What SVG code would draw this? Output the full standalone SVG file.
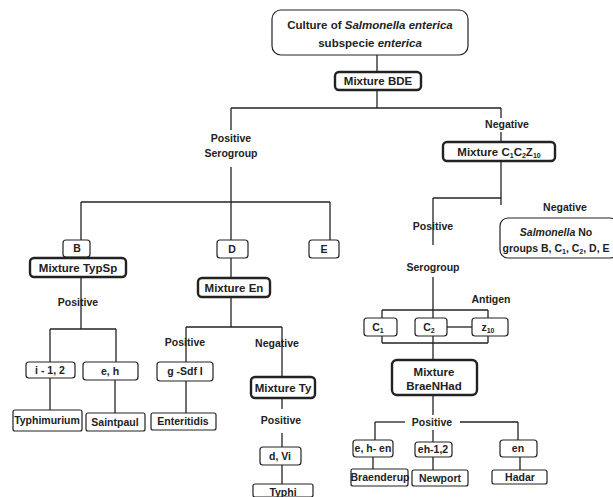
<svg xmlns="http://www.w3.org/2000/svg" width="613" height="497" viewBox="0 0 613 497">
<style>
  .bx{fill:#fff;stroke:#222;stroke-width:1.2}
  .tk{fill:#fff;stroke:#222;stroke-width:2.4}
  .ln line{stroke:#222;stroke-width:1.3}
  text{font-family:"Liberation Sans",Arial,sans-serif;font-weight:bold;fill:#222;text-anchor:middle}
  .m{font-size:11.5px}
  .l{font-size:10.5px}
  .s{font-size:7px}
</style>
<rect width="613" height="497" fill="#fff"/>
<g id="connectors" class="ln">
  <line x1="377" y1="55" x2="377" y2="72"/>
  <line x1="377" y1="90" x2="377" y2="108"/>
  <line x1="231" y1="108" x2="501" y2="108"/>
  <line x1="231" y1="108" x2="231" y2="130"/>
  <line x1="231" y1="167" x2="231" y2="202"/>
  <line x1="501" y1="108" x2="501" y2="118"/>
  <line x1="501" y1="132" x2="501" y2="142"/>
  <line x1="501" y1="161" x2="501" y2="205"/>
  <line x1="433" y1="198" x2="501" y2="198"/>
  <line x1="433" y1="198" x2="433" y2="245"/>
  <line x1="433" y1="277" x2="433" y2="318"/>
  <line x1="382" y1="310" x2="488" y2="310"/>
  <line x1="382" y1="310" x2="382" y2="318"/>
  <line x1="488" y1="310" x2="488" y2="318"/>
  <line x1="382" y1="343" x2="488" y2="343"/>
  <line x1="382" y1="336" x2="382" y2="343"/>
  <line x1="488" y1="336" x2="488" y2="343"/>
  <line x1="447" y1="327" x2="472" y2="327"/>
  <line x1="433" y1="336" x2="433" y2="360"/>
  <line x1="433" y1="395" x2="433" y2="415"/>
  <line x1="433" y1="430" x2="433" y2="442"/>
  <line x1="433" y1="457" x2="433" y2="470"/>
  <line x1="375" y1="422" x2="405" y2="422"/>
  <line x1="460" y1="422" x2="518" y2="422"/>
  <line x1="375" y1="422" x2="375" y2="440"/>
  <line x1="373" y1="457" x2="373" y2="469"/>
  <line x1="518" y1="422" x2="518" y2="440"/>
  <line x1="520" y1="457" x2="520" y2="470"/>
  <line x1="81" y1="202" x2="330" y2="202"/>
  <line x1="81" y1="202" x2="81" y2="240"/>
  <line x1="231" y1="202" x2="231" y2="240"/>
  <line x1="330" y1="202" x2="330" y2="240"/>
  <line x1="81" y1="277" x2="81" y2="329"/>
  <line x1="50" y1="329" x2="116" y2="329"/>
  <line x1="50" y1="329" x2="50" y2="362"/>
  <line x1="116" y1="329" x2="116" y2="362"/>
  <line x1="50" y1="378" x2="50" y2="410"/>
  <line x1="115" y1="380" x2="115" y2="413"/>
  <line x1="231" y1="258" x2="231" y2="278"/>
  <line x1="231" y1="297" x2="231" y2="327"/>
  <line x1="186" y1="327" x2="282" y2="327"/>
  <line x1="186" y1="327" x2="186" y2="362"/>
  <line x1="186" y1="381" x2="186" y2="428"/>
  <line x1="282" y1="327" x2="282" y2="377"/>
  <line x1="282" y1="398" x2="282" y2="409"/>
  <line x1="282" y1="433" x2="282" y2="447"/>
  <line x1="282" y1="465" x2="282" y2="484"/>
</g>
<g id="culture"><rect class="bx" x="272" y="10" width="196" height="45" rx="9"/>
  <text class="m" x="370" y="29">Culture of <tspan font-style="italic">Salmonella enterica</tspan></text>
  <text class="m" x="370" y="47">subspecie <tspan font-style="italic">enterica</tspan></text></g>
<g id="mixBDE"><rect class="tk" x="335" y="72" width="86" height="18" rx="4"/><text class="m" x="378" y="85">Mixture BDE</text></g>
<g id="posSero"><text class="l" x="231" y="142">Positive</text><text class="l" x="231" y="157">Serogroup</text></g>
<g id="neg1"><text class="l" x="507" y="128">Negative</text></g>
<g id="mixC"><rect class="tk" x="443" y="142" width="112" height="19" rx="4"/>
  <text class="m" x="499" y="156">Mixture C<tspan class="s" dy="2">1</tspan><tspan dy="-2">C</tspan><tspan class="s" dy="2">2</tspan><tspan dy="-2">Z</tspan><tspan class="s" dy="2">10</tspan></text></g>
<g id="neg2"><text class="l" x="565" y="211">Negative</text></g>
<g id="noGroups"><rect class="bx" x="500" y="218" width="118" height="40" rx="8"/>
  <text class="l" x="556" y="236"><tspan font-style="italic">Salmonella</tspan> No</text>
  <text class="l" x="556" y="252">groups B, C<tspan class="s" dy="2">1</tspan><tspan dy="-2">, C</tspan><tspan class="s" dy="2">2</tspan><tspan dy="-2">, D, E</tspan></text></g>
<g id="posSero2"><text class="l" x="433" y="230">Positive</text><text class="l" x="433" y="271">Serogroup</text></g>
<g id="antigen"><text class="l" x="491" y="303">Antigen</text></g>
<g id="C1"><rect class="bx" x="364" y="318" width="33" height="18" rx="3"/><text class="l" x="378" y="331">C<tspan class="s" dy="2">1</tspan></text></g>
<g id="C2"><rect class="bx" x="415" y="318" width="32" height="18" rx="3"/><text class="l" x="429" y="331">C<tspan class="s" dy="2">2</tspan></text></g>
<g id="z10"><rect class="bx" x="472" y="318" width="36" height="18" rx="3"/><text class="l" x="488" y="331">z<tspan class="s" dy="2">10</tspan></text></g>
<g id="mixBrae"><rect class="tk" x="392" y="360" width="85" height="35" rx="5"/>
  <text class="m" x="434" y="376">Mixture</text><text class="m" x="434" y="390">BraeNHad</text></g>
<g id="pos4"><text class="l" x="432" y="426">Positive</text></g>
<g id="ehen"><rect class="bx" x="353" y="440" width="40" height="17" rx="3"/><text class="l" x="373" y="452">e, h- en</text></g>
<g id="eh12"><rect class="bx" x="415" y="442" width="37" height="15" rx="3"/><text class="l" x="433" y="453">eh-1,2</text></g>
<g id="en"><rect class="bx" x="500" y="440" width="37" height="17" rx="3"/><text class="l" x="518" y="452">en</text></g>
<g id="braenderup"><rect class="bx" x="351" y="469" width="57" height="17" rx="2"/><text class="l" x="380" y="481">Braenderup</text></g>
<g id="newport"><rect class="bx" x="412" y="470" width="56" height="16" rx="2"/><text class="l" x="440" y="482">Newport</text></g>
<g id="hadar"><rect class="bx" x="492" y="470" width="55" height="14" rx="2"/><text class="l" x="520" y="481">Hadar</text></g>
<g id="B"><rect class="bx" x="63" y="240" width="27" height="17" rx="3"/><text class="l" x="77" y="252">B</text></g>
<g id="mixTypSp"><rect class="tk" x="30" y="258" width="96" height="19" rx="4"/><text class="m" x="78" y="272">Mixture TypSp</text></g>
<g id="pos5"><text class="l" x="78" y="306">Positive</text></g>
<g id="i12"><rect class="bx" x="26" y="362" width="49" height="16" rx="3"/><text class="l" x="50" y="374">i - 1, 2</text></g>
<g id="eh"><rect class="bx" x="83" y="362" width="55" height="18" rx="3"/><text class="l" x="110" y="375">e, h</text></g>
<g id="typhimurium"><rect class="bx" x="13" y="410" width="69" height="21" rx="2"/><text class="l" x="47" y="424">Typhimurium</text></g>
<g id="saintpaul"><rect class="bx" x="86" y="413" width="59" height="18" rx="2"/><text class="l" x="115" y="426">Saintpaul</text></g>
<g id="D"><rect class="bx" x="217" y="240" width="31" height="18" rx="3"/><text class="l" x="232" y="253">D</text></g>
<g id="E"><rect class="bx" x="309" y="240" width="30" height="18" rx="3"/><text class="l" x="324" y="253">E</text></g>
<g id="mixEn"><rect class="tk" x="198" y="278" width="72" height="19" rx="4"/><text class="m" x="234" y="292">Mixture En</text></g>
<g id="pos6"><text class="l" x="185" y="346">Positive</text></g>
<g id="neg3"><text class="l" x="277" y="347">Negative</text></g>
<g id="gsdf"><rect class="bx" x="157" y="362" width="56" height="19" rx="3"/><text class="l" x="185" y="375">g -Sdf I</text></g>
<g id="enteritidis"><rect class="bx" x="151" y="413" width="65" height="17" rx="2"/><text class="l" x="183" y="425">Enteritidis</text></g>
<g id="mixTy"><rect class="tk" x="251" y="377" width="64" height="21" rx="4"/><text class="m" x="283" y="392">Mixture Ty</text></g>
<g id="pos7"><text class="l" x="281" y="424">Positive</text></g>
<g id="dVi"><rect class="bx" x="260" y="447" width="41" height="18" rx="3"/><text class="l" x="280" y="460">d, Vi</text></g>
<g id="typhi"><rect class="bx" x="253" y="484" width="60" height="13" rx="2"/><text class="l" x="283" y="496">Typhi</text></g>
</svg>
